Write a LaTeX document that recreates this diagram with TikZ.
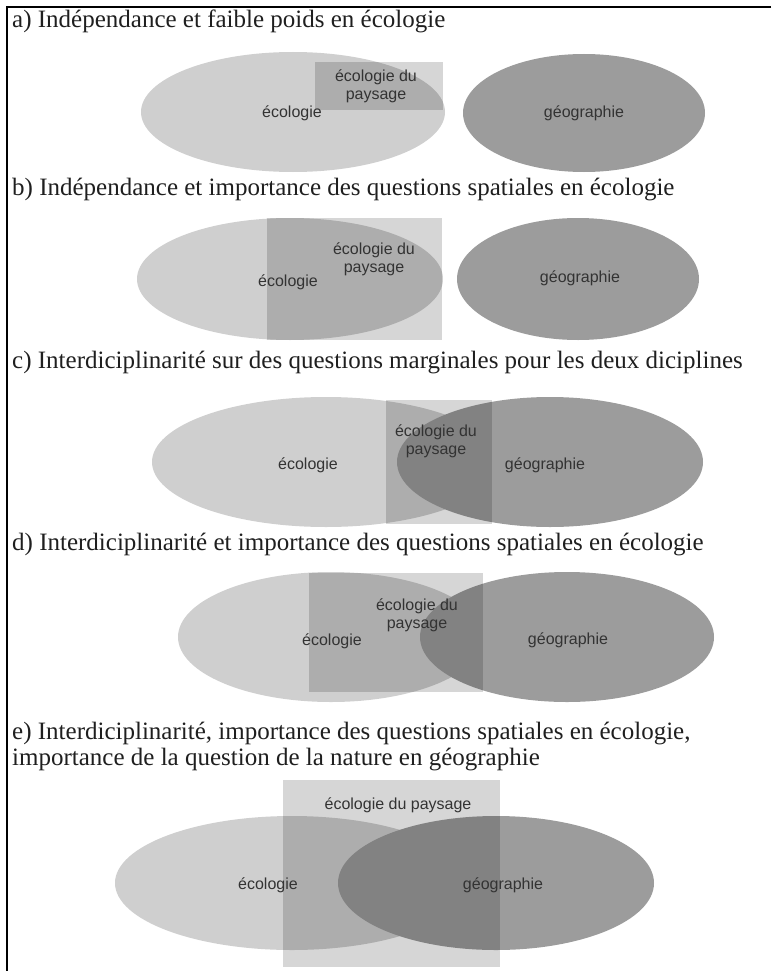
\documentclass[tikz,border=0pt]{standalone}
\usepackage{fontspec}
\setmainfont{Liberation Serif}
\newfontfamily\sansfont{Liberation Sans}
\colorlet{ecofill}{black!19}
\colorlet{geofill}{black!39}
\begin{document}
\begin{tikzpicture}[x=1pt,y=-1pt]
\tikzstyle{every node}+=[inner sep=0pt]
\tikzstyle{titre}=[anchor=west,align=left,font=\fontsize{25}{26}\selectfont,text=black!88]
\tikzstyle{etiq}=[align=center,font=\sansfont\fontsize{16}{18}\selectfont,text=black!80]
\tikzstyle{paysage}=[fill=black,fill opacity=0.16]
\useasboundingbox (0,0) rectangle (771,971);
\draw [line width=2.2pt] (771,7) -- (7,7) -- (7,971);
\node [titre] (titreA) at (12,21) {a) Indépendance et faible poids en écologie};
\fill [ecofill] (293,112) ellipse [x radius=152pt, y radius=60pt];
\fill [geofill] (584,113) ellipse [x radius=121pt, y radius=59pt];
\fill [paysage] (315,62) rectangle (443,110);
\node [etiq] (ecoA) at (292,113) {écologie};
\node [etiq] (paysA) at (376,86) {écologie du\\paysage};
\node [etiq] (geoA) at (584,113) {géographie};
\node [titre] (titreB) at (12,190) {b) Indépendance et importance des questions spatiales en écologie};
\fill [ecofill] (290,279) ellipse [x radius=153pt, y radius=61pt];
\fill [geofill] (578,279) ellipse [x radius=121pt, y radius=61pt];
\fill [paysage] (267,218) rectangle (442,340);
\node [etiq] (ecoB) at (288,282) {écologie};
\node [etiq] (paysB) at (374,259) {écologie du\\paysage};
\node [etiq] (geoB) at (580,278) {géographie};
\node [titre] (titreC) at (12,363) {c) Interdiciplinarité sur des questions marginales pour les deux diciplines};
\fill [ecofill] (326,462) ellipse [x radius=174pt, y radius=65pt];
\fill [geofill] (550,462) ellipse [x radius=153pt, y radius=65pt];
\fill [paysage] (386,400) rectangle (492,524);
\node [etiq] (ecoC) at (308,465) {écologie};
\node [etiq] (paysC) at (436,441) {écologie du\\paysage};
\node [etiq] (geoC) at (545,465) {géographie};
\node [titre] (titreD) at (12,545) {d) Interdiciplinarité et importance des questions spatiales en écologie};
\fill [ecofill] (331,637) ellipse [x radius=153pt, y radius=65pt];
\fill [geofill] (567,637) ellipse [x radius=147pt, y radius=65pt];
\fill [paysage] (309,573) rectangle (483,692);
\node [etiq] (ecoD) at (332,641) {écologie};
\node [etiq] (paysD) at (417,615) {écologie du\\paysage};
\node [etiq] (geoD) at (568,640) {géographie};
\node [titre] (titreE) at (12,746) {e) Interdiciplinarité, importance des questions spatiales en écologie,\\importance de la question de la nature en géographie};
\fill [ecofill] (292,883) ellipse [x radius=177pt, y radius=67pt];
\fill [geofill] (496,883) ellipse [x radius=158pt, y radius=67pt];
\fill [paysage] (283,780) rectangle (500,967);
\node [etiq] (ecoE) at (268,885) {écologie};
\node [etiq] (paysE) at (398,805) {écologie du paysage};
\node [etiq] (geoE) at (503,885) {géographie};
\end{tikzpicture}
\end{document}
